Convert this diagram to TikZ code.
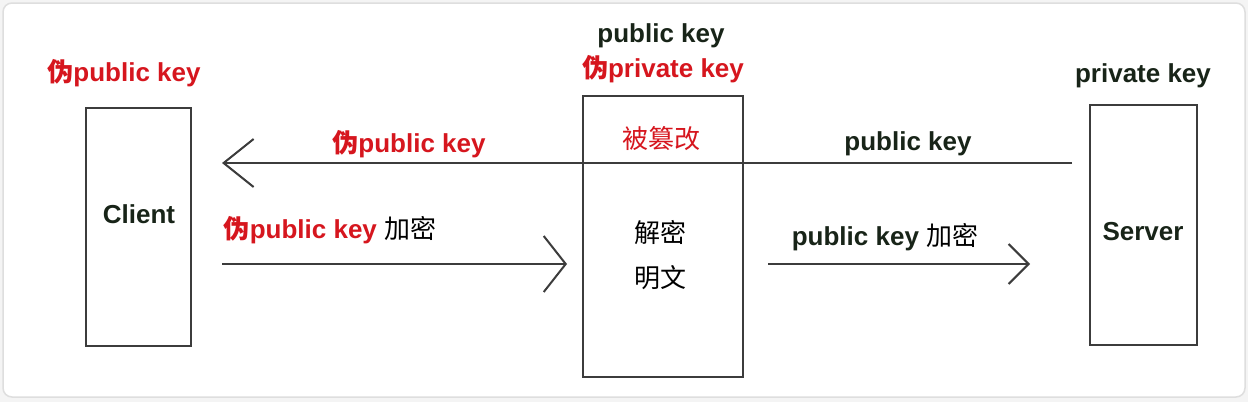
\documentclass[tikz,border=0pt]{standalone}
\usepackage{fontspec}
\setmainfont{Liberation Sans}
\newfontfamily\cjk{Noto Sans CJK SC}
\usetikzlibrary{arrows.meta}
\definecolor{fakered}{RGB}{214,22,30}
\definecolor{ink}{RGB}{24,36,24}
\definecolor{linegray}{RGB}{60,60,60}
\definecolor{framegray}{RGB}{222,222,222}
\definecolor{outergray}{RGB}{244,244,244}
\begin{document}
\begin{tikzpicture}[x=1pt,y=-1pt,
  txt/.style={anchor=base,inner sep=0pt,font=\fontsize{26pt}{30pt}\selectfont\bfseries,text=ink},
  redtxt/.style={txt,text=fakered},
  plain/.style={anchor=base,inner sep=0pt,font=\fontsize{26pt}{30pt}\selectfont\cjk,text=black},
  party/.style={draw=linegray,line width=2pt,inner sep=0pt,fill=white},
  msg/.style={draw=linegray,line width=2pt}
]
\useasboundingbox (0,0) rectangle (1248,402);
\fill[outergray] (0,0) rectangle (1248,402);
\draw[framegray,fill=white,line width=1.5pt,rounded corners=9pt] (3,3) rectangle (1245,397);

% boxes
\node[party,minimum width=105pt,minimum height=238pt] (client) at (138,227) {};
\node[party,minimum width=160pt,minimum height=281pt] (mitm) at (663,236.5) {};
\node[party,minimum width=107pt,minimum height=240pt] (server) at (1143.5,225) {};

% box texts
\node[txt] (clientlbl) at (139,223) {Client};
\node[txt] (serverlbl) at (1143,240) {Server};
\node[plain] (jiemi) at (660,242) {解密};
\node[plain] (mingwen) at (660,287) {明文};
\node[redtxt,font=\fontsize{26pt}{30pt}\selectfont\cjk] (tamper) at (661,148) {被篡改};

% labels above boxes
\node[redtxt] (clientkey) at (124,81) {{\cjk\bfseries 伪}public key};
\node[txt] (mitmpub) at (661,42) {public key};
\node[redtxt] (mitmpriv) at (663,77) {{\cjk\bfseries 伪}private key};
\node[txt] (serverkey) at (1143,82) {private key};

% arrow endpoints
\coordinate (a1s) at (1072,163);
\coordinate (a1e) at (222,163);
\coordinate (a2s) at (222,264);
\coordinate (a2e) at (567,264);
\coordinate (a3s) at (768,264);
\coordinate (a3e) at (1030,264);

\draw[msg,-{Straight Barb[length=30pt,width=48pt,line width=2pt]}] (a1s) -- (a1e);
\draw[msg,-{Straight Barb[length=22pt,width=56pt,line width=2pt]}] (a2s) -- (a2e);
\draw[msg,-{Straight Barb[length=20pt,width=40pt,line width=2pt]}] (a3s) -- (a3e);

% arrow labels
\node[redtxt] (fakepub) at (409,152) {{\cjk\bfseries 伪}public key};
\node[txt] (realpub) at (908,150) {public key};
\node[anchor=base,inner sep=0pt,font=\fontsize{26pt}{30pt}\selectfont] (enc1) at (330,238) {\textcolor{fakered}{\bfseries{\cjk\bfseries 伪}public key} {\cjk 加密}};
\node[anchor=base,inner sep=0pt,font=\fontsize{26pt}{30pt}\selectfont] (enc2) at (885,245) {\textcolor{ink}{\bfseries public key} {\cjk 加密}};
\end{tikzpicture}
\end{document}
